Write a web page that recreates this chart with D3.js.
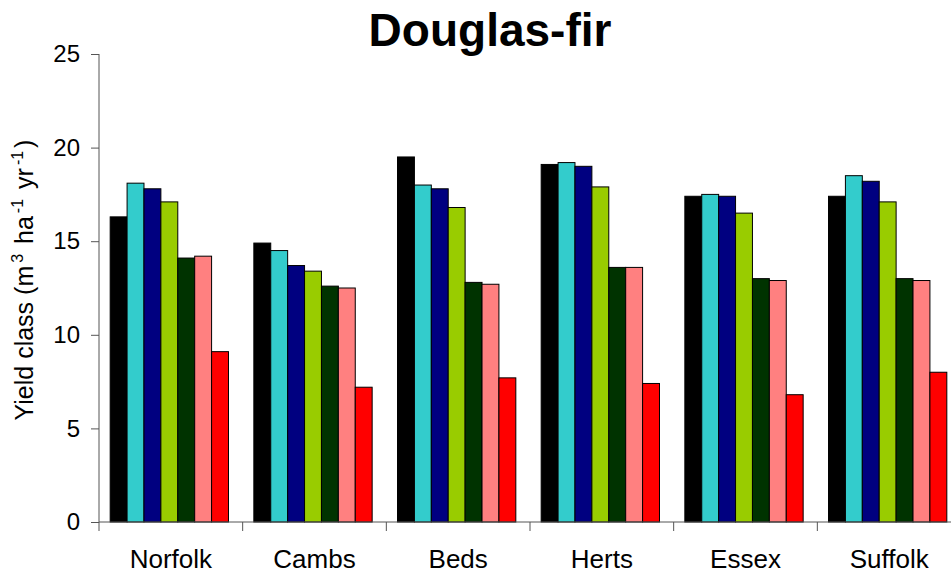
<!DOCTYPE html>
<html>
<head>
<meta charset="utf-8">
<script src="https://cdn.jsdelivr.net/npm/d3@7"></script>
<style>
  body { margin: 0; background: #fff; }
  text { font-family: "Liberation Sans", Arial, sans-serif; }
</style>
</head>
<body>
<div id="chart"></div>
<script>
// counties along the x axis
var counties = ["Norfolk", "Cambs", "Beds", "Herts", "Essex", "Suffolk"];

// seven series per county
var s1 = [16.3, 14.9, 19.5, 19.1, 17.4, 17.4];
var s2 = [18.1, 14.5, 18.0, 19.2, 17.5, 18.5];
var s3 = [17.8, 13.7, 17.8, 19.0, 17.4, 18.2];
var s4 = [17.1, 13.4, 16.8, 17.9, 16.5, 17.1];
var s5 = [14.1, 12.6, 12.8, 13.6, 13.0, 13.0];
var s6 = [14.2, 12.5, 12.7, 13.6, 12.9, 12.9];
var s7 = [9.1, 7.2, 7.7, 7.4, 6.8, 8.0];

var seriesColors = ["#000000", "#33CCCC", "#000080", "#99CC00", "#003300", "#FF8080", "#FF0000"];
var yTicks = [0, 5, 10, 15, 20, 25];

var series = [s1, s2, s3, s4, s5, s6, s7];

var width = 951,
    height = 576,
    margin = { left: 99, right: -10, top: 54, bottom: 54 };

var svg = d3.select("#chart")
    .append("svg")
    .attr("width", width)
    .attr("height", height);

var x = d3.scaleBand()
    .domain(counties)
    .range([margin.left, width - margin.right])
    .paddingInner(0)
    .paddingOuter(0);

var xInner = d3.scaleBand()
    .domain(d3.range(series.length))
    .range([0, x.bandwidth()])
    .paddingOuter(0.75)
    .paddingInner(0);

var y = d3.scaleLinear()
    .domain([0, 25])
    .range([height - margin.bottom, margin.top]);

/* bars */
var groups = svg.append("g")
    .selectAll("g")
    .data(counties)
    .enter().append("g")
        .attr("transform", function(d) { return "translate(" + (x(d) - 1.5) + ",0)"; });

groups.selectAll("rect")
    .data(function(d, i) {
        return series.map(function(s, k) { return { k: k, value: s[i] }; });
    })
    .enter().append("rect")
        .attr("x", function(d) { return xInner(d.k); })
        .attr("y", function(d) { return y(d.value); })
        .attr("width", xInner.bandwidth())
        .attr("height", function(d) { return y(0) - y(d.value); })
        .attr("fill", function(d) { return seriesColors[d.k]; })
        .attr("stroke", "#000")
        .attr("stroke-width", 1);

/* y axis */
var yAxis = svg.append("g")
    .attr("transform", "translate(" + margin.left + ",0)")
    .call(d3.axisLeft(y).tickValues(yTicks).tickSize(8).tickPadding(11));
yAxis.select(".domain").attr("stroke", "#555").attr("d", "M0," + y(0) + "V" + y(25));
yAxis.selectAll(".tick line").attr("stroke", "#555");
yAxis.selectAll(".tick text")
    .attr("font-size", 24)
    .attr("fill", "#000")
    .attr("font-family", "Liberation Sans, Arial, sans-serif");

/* x axis */
var xAxis = svg.append("g")
    .attr("transform", "translate(0," + y(0) + ")")
    .call(d3.axisBottom(x).tickSize(0).tickPadding(28));
xAxis.select(".domain").attr("stroke", "#555").attr("d", "M" + margin.left + ",0H" + width);
xAxis.selectAll(".tick text")
    .attr("font-size", 26)
    .attr("fill", "#000")
    .attr("font-family", "Liberation Sans, Arial, sans-serif");

// category separators below the axis
svg.append("g")
    .selectAll("line")
    .data(counties)
    .enter().append("line")
        .attr("x1", function(d) { return x(d); })
        .attr("x2", function(d) { return x(d); })
        .attr("y1", y(0))
        .attr("y2", y(0) + 9)
        .attr("stroke", "#555");

/* title */
svg.append("text")
    .attr("x", 490)
    .attr("y", 46)
    .attr("text-anchor", "middle")
    .attr("font-size", 46)
    .attr("font-weight", "bold")
    .text("Douglas-fir");

/* y label */
var ylab = svg.append("text")
    .attr("transform", "translate(33," + 280 + ") rotate(-90)")
    .attr("text-anchor", "middle")
    .attr("font-size", 25);
ylab.append("tspan").text("Yield class (m");
ylab.append("tspan").attr("font-size", 16).attr("dx", 3).attr("dy", -10).text("3");
ylab.append("tspan").attr("dx", 3).attr("dy", 10).text(" ha");
ylab.append("tspan").attr("font-size", 16).attr("dx", 3).attr("dy", -10).text("-1");
ylab.append("tspan").attr("dx", 3).attr("dy", 10).text(" yr");
ylab.append("tspan").attr("font-size", 16).attr("dx", 3).attr("dy", -10).text("-1");
ylab.append("tspan").attr("dx", 3).attr("dy", 10).text(")");
</script>
</body>
</html>
